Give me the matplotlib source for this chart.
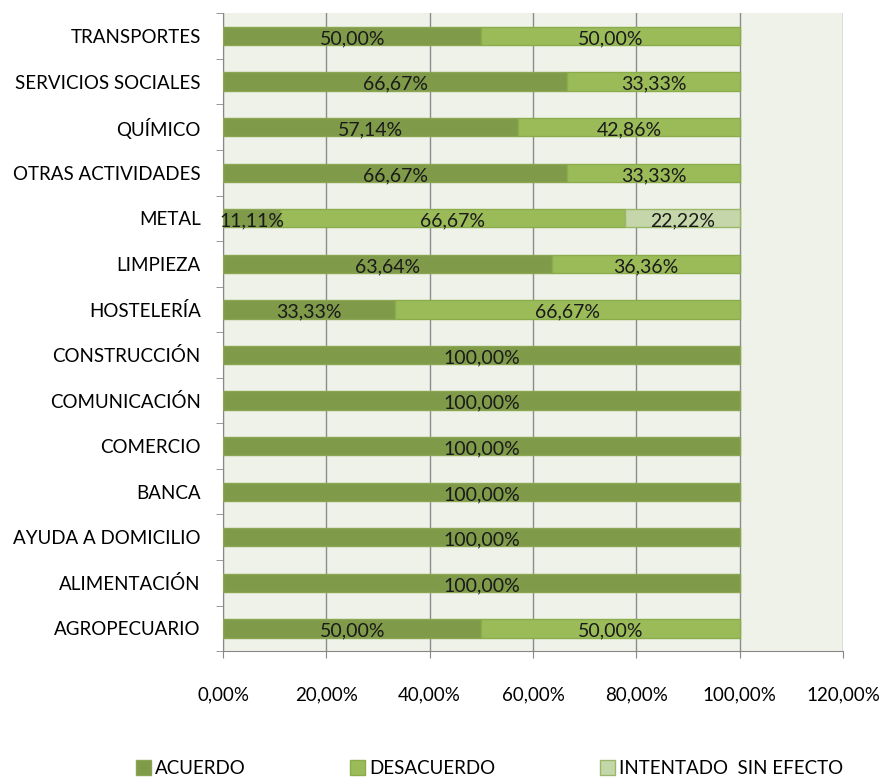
import numpy as np
import matplotlib.pyplot as plt
from matplotlib.patches import Patch
from matplotlib.ticker import FixedLocator

plt.rcParams['font.family'] = ['Lato', 'DejaVu Sans']

# Categories from bottom to top
sectores = ['AGROPECUARIO', 'ALIMENTACIÓN', 'AYUDA A DOMICILIO', 'BANCA', 'COMERCIO',
            'COMUNICACIÓN', 'CONSTRUCCIÓN', 'HOSTELERÍA', 'LIMPIEZA', 'METAL',
            'OTRAS ACTIVIDADES', 'QUÍMICO', 'SERVICIOS SOCIALES', 'TRANSPORTES']
acuerdo = [50.00, 100.00, 100.00, 100.00, 100.00, 100.00, 100.00, 33.33, 63.64, 11.11,
           66.67, 57.14, 66.67, 50.00]
desacuerdo = [50.00, 0, 0, 0, 0, 0, 0, 66.67, 36.36, 66.67, 33.33, 42.86, 33.33, 50.00]
intentado = [0, 0, 0, 0, 0, 0, 0, 0, 0, 22.22, 0, 0, 0, 0]

series = [('ACUERDO', acuerdo, '#7f9a48', '#8aa653'),
          ('DESACUERDO', desacuerdo, '#9bbb59', '#8aac4a'),
          ('INTENTADO  SIN EFECTO', intentado, '#c5d6aa', '#9bb86a')]

fs = 13.5

fig = plt.figure(figsize=(8.9, 7.78), dpi=100)
ax = fig.add_axes([0.2506, 0.163, 0.6966, 0.820])
ax.set_facecolor('#eff2e9')

y = np.arange(len(sectores))
left = np.zeros(len(sectores))
handles = []
for name, vals, fc, ec in series:
    vals = np.array(vals)
    nz = vals > 0
    ax.barh(y[nz], vals[nz], left=left[nz], height=0.4, color=fc, edgecolor=ec,
            linewidth=1, zorder=3)
    for yi in y[nz]:
        ax.text(left[yi] + vals[yi] / 2, yi - 0.06, f'{vals[yi]:.2f}%'.replace('.', ','),
                ha='center', va='center', fontsize=14, color='#1a1a1a', zorder=4)
    left += vals
    handles.append(Patch(facecolor=fc, edgecolor=ec, label=name))

ax.set_xlim(0, 120)
ax.set_ylim(-0.5, len(sectores) - 0.5)
ax.set_xticks(np.arange(0, 121, 20))
ax.set_xticklabels([f'{v:.2f}%'.replace('.', ',') for v in np.arange(0, 121, 20)])
ax.set_yticks(y)
ax.set_yticklabels(sectores)
ax.yaxis.set_minor_locator(FixedLocator(np.arange(-0.5, len(sectores), 1)))
ax.tick_params(axis='y', which='major', length=0, pad=16, labelsize=fs)
ax.tick_params(axis='y', which='minor', length=5, color='#888888', direction='out')
ax.tick_params(axis='x', length=5, color='#888888', pad=20, labelsize=fs)
ax.grid(axis='x', color='#8c8c8c', linewidth=1, zorder=1)
for s in ['top', 'right']:
    ax.spines[s].set_visible(False)
for s in ['left', 'bottom']:
    ax.spines[s].set_color('#888888')

fig.legend(handles=handles, loc='center', bbox_to_anchor=(0.55, 0.012), ncol=3,
           frameon=False, fontsize=fs, handlelength=0.8, handleheight=0.8,
           handletextpad=0.2, columnspacing=5.6)

fig.savefig('out.png', dpi=100)
